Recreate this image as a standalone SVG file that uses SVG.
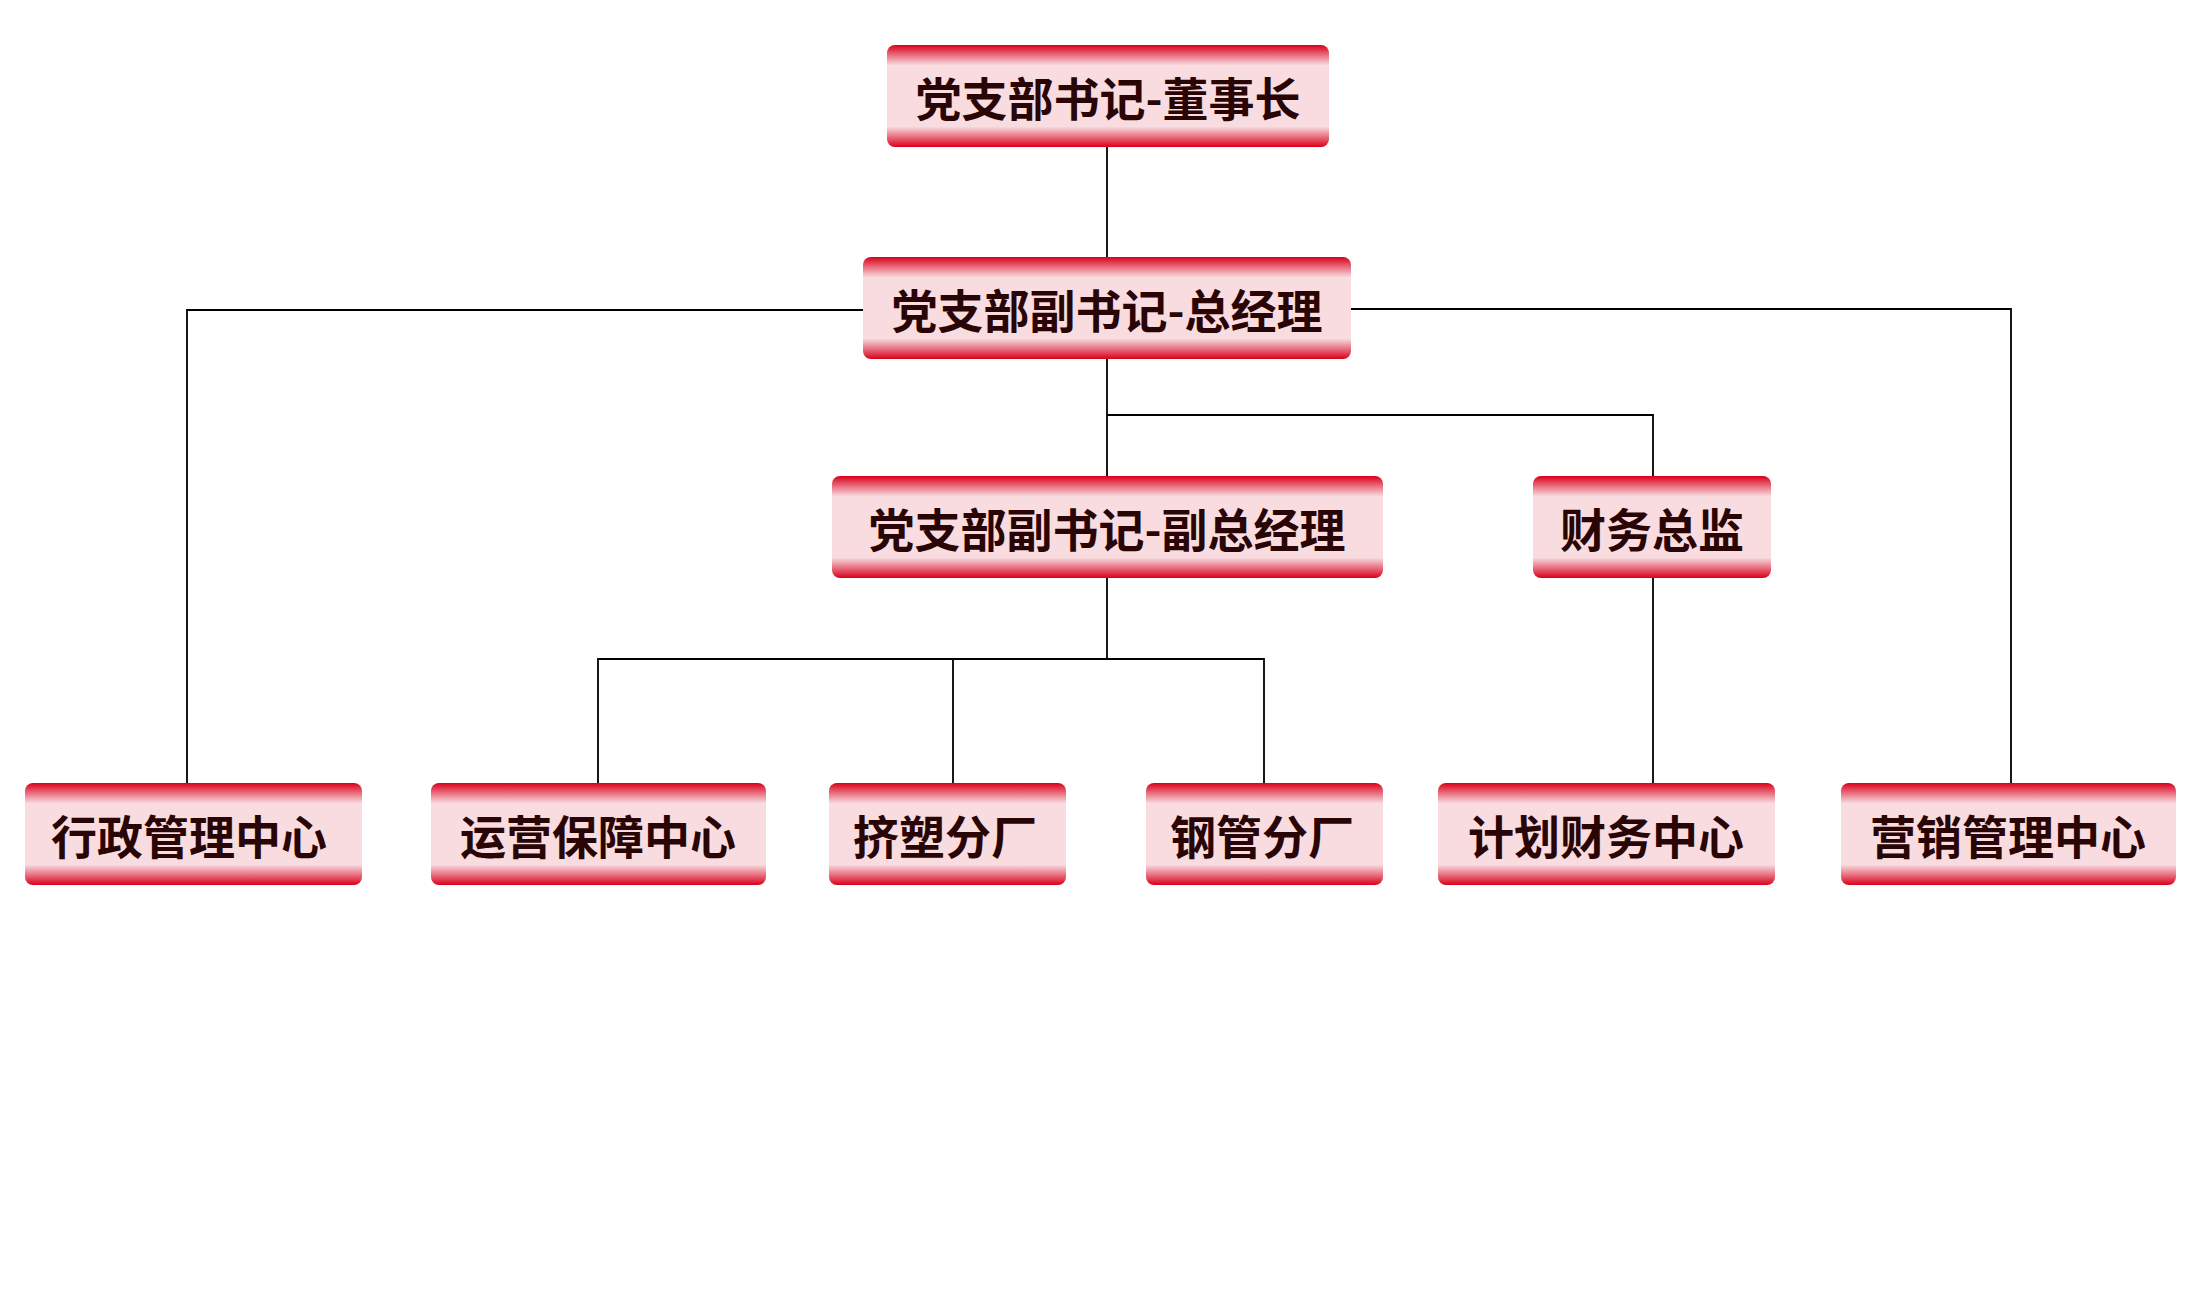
<svg xmlns="http://www.w3.org/2000/svg" width="2200" height="1300" viewBox="0 0 2200 1300">
<style>
.n{fill:url(#g)}
.t{font-family:"Noto Sans CJK SC","Liberation Sans",sans-serif;font-size:46px;font-weight:bold;fill:#2a0505;text-anchor:middle;dominant-baseline:central}
#c path{fill:none;stroke:#000;stroke-width:1.8}
</style>
<defs>
<linearGradient id="g" x1="0" y1="0" x2="0" y2="1">
<stop offset="0" stop-color="#d9001b"/>
<stop offset="0.1" stop-color="#e8707f"/>
<stop offset="0.2" stop-color="#f8dce0"/>
<stop offset="0.8" stop-color="#f8dce0"/>
<stop offset="0.9" stop-color="#e8707f"/>
<stop offset="1" stop-color="#d9001b"/>
</linearGradient>
</defs>
<rect width="2200" height="1300" fill="#fff"/>
<g id="c">
<path d="M1107 147V257"/>
<path d="M863 310H187V783"/>
<path d="M1351 309H2011V783"/>
<path d="M1107 359V476"/>
<path d="M1107 415H1653V476"/>
<path d="M1107 578V659"/>
<path d="M598 783V659H1264V783"/>
<path d="M953 659V783"/>
<path d="M1653 578V783"/>
</g>
<g id="n1"><rect class="n" x="887" y="45" width="442" height="102" rx="8"/><text class="t" x="1108" y="96">党支部书记-董事长</text></g>
<g id="n2"><rect class="n" x="863" y="257" width="488" height="102" rx="8"/><text class="t" x="1107" y="308">党支部副书记-总经理</text></g>
<g id="n3"><rect class="n" x="832" y="476" width="551" height="102" rx="8"/><text class="t" x="1107" y="527">党支部副书记-副总经理</text></g>
<g id="n4"><rect class="n" x="1533" y="476" width="238" height="102" rx="8"/><text class="t" x="1652" y="527">财务总监</text></g>
<g id="n5"><rect class="n" x="25" y="783" width="337" height="102" rx="8"/><text class="t" x="189" y="834">行政管理中心</text></g>
<g id="n6"><rect class="n" x="431" y="783" width="335" height="102" rx="8"/><text class="t" x="598" y="834">运营保障中心</text></g>
<g id="n7"><rect class="n" x="829" y="783" width="237" height="102" rx="8"/><text class="t" x="945" y="834">挤塑分厂</text></g>
<g id="n8"><rect class="n" x="1146" y="783" width="237" height="102" rx="8"/><text class="t" x="1262" y="834">钢管分厂</text></g>
<g id="n9"><rect class="n" x="1438" y="783" width="337" height="102" rx="8"/><text class="t" x="1606" y="834">计划财务中心</text></g>
<g id="n10"><rect class="n" x="1841" y="783" width="335" height="102" rx="8"/><text class="t" x="2008" y="834">营销管理中心</text></g>
</svg>
